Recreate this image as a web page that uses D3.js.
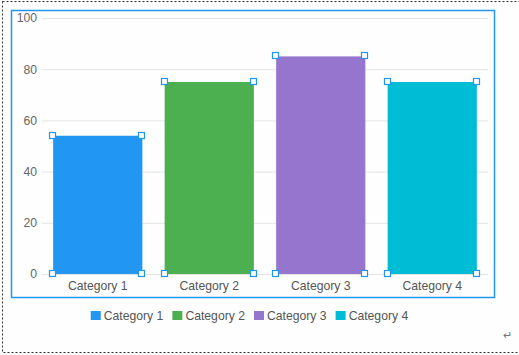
<!DOCTYPE html>
<html>
  <head>
    <style>
      body,
      html {
        margin: 0;
        padding: 0;
        background: #fdfefd;
      }
      svg {
        display: block;
        font-family: 'Liberation Sans', Arial, sans-serif;
      }
    </style>
  </head>
  <body>
    <svg id="svg" width="519" height="355"></svg>

    <script src="https://cdn.jsdelivr.net/npm/d3@7"></script>
    <script>
      const categories = ['Category 1', 'Category 2', 'Category 3', 'Category 4'];
      const values = [54, 75, 85, 75];
      const colors = ['#2196f3', '#4caf50', '#9575cd', '#00bcd4'];
      const yTicks = [0, 20, 40, 60, 80, 100];

      const draw = () => {
        const svg = d3.select('#svg');
        const fontSize = 12.2;

        // page border (dashed) and selection frame
        svg
          .append('rect')
          .attr('x', 2.5)
          .attr('y', 1.5)
          .attr('width', 530)
          .attr('height', 351)
          .attr('fill', 'none')
          .attr('stroke', '#333')
          .attr('stroke-dasharray', '2,2');
        svg
          .append('rect')
          .attr('x', 11.5)
          .attr('y', 10.5)
          .attr('width', 483)
          .attr('height', 287)
          .attr('fill', 'none')
          .attr('stroke', '#2196f3')
          .attr('stroke-width', 1.5);

        const plotLeft = 42;
        const plotRight = 488;
        const plotTop = 18;
        const plotBottom = 274;

        const xScale = d3
          .scaleBand()
          .domain(categories)
          .range([plotLeft, plotRight])
          .paddingInner(0.2)
          .paddingOuter(0.1);
        const yScale = d3.scaleLinear().domain([0, 100]).range([plotBottom, plotTop]);

        // gridlines
        svg
          .append('g')
          .selectAll('line')
          .data(yTicks)
          .join('line')
          .attr('x1', plotLeft)
          .attr('x2', plotRight)
          .attr('y1', (d) => yScale(d) + 0.5)
          .attr('y2', (d) => yScale(d) + 0.5)
          .attr('stroke', '#e3e3e3');

        const leftAxis = d3.axisLeft(yScale).tickValues(yTicks).tickSize(0).tickPadding(5);
        const yAxis = svg.append('g').attr('transform', `translate(${plotLeft}, 0)`).call(leftAxis);
        yAxis.select('.domain').remove();
        yAxis
          .selectAll('text')
          .attr('fill', '#666')
          .attr('font-size', fontSize)
          .attr('font-family', 'Liberation Sans, Arial, sans-serif');

        const bottomAxis = d3.axisBottom(xScale).tickSize(0).tickPadding(7);
        const xAxis = svg.append('g').attr('transform', `translate(0, ${plotBottom})`).call(bottomAxis);
        xAxis.select('.domain').remove();
        xAxis
          .selectAll('text')
          .attr('fill', '#555')
          .attr('font-size', fontSize)
          .attr('font-family', 'Liberation Sans, Arial, sans-serif');

        // bars
        svg
          .append('g')
          .selectAll('rect')
          .data(values)
          .join('rect')
          .attr('x', (d, i) => xScale(categories[i]))
          .attr('y', (d) => yScale(d))
          .attr('width', xScale.bandwidth())
          .attr('height', (d) => plotBottom - yScale(d))
          .attr('fill', (d, i) => colors[i]);

        // selection handles on bar corners
        const handles = [];
        values.forEach((v, i) => {
          const x0 = xScale(categories[i]);
          const x1 = x0 + xScale.bandwidth();
          [x0, x1].forEach((x) => {
            handles.push([x, yScale(v)]);
            handles.push([x, plotBottom]);
          });
        });
        svg
          .append('g')
          .selectAll('rect')
          .data(handles)
          .join('rect')
          .attr('x', (d) => Math.round(d[0]) - 3.5)
          .attr('y', (d) => Math.round(d[1]) - 3.5)
          .attr('width', 6)
          .attr('height', 6)
          .attr('fill', '#fff')
          .attr('stroke', '#2196f3')
          .attr('stroke-width', 1.2);

        // legend
        const legend = svg.append('g').attr('transform', 'translate(0, 315)');
        const itemWidths = [];
        const tmp = legend.append('text').attr('font-size', fontSize);
        categories.forEach((c) => {
          tmp.text(c);
          itemWidths.push(13 + tmp.node().getComputedTextLength());
        });
        tmp.remove();
        const gap = 9;
        const total = d3.sum(itemWidths) + gap * (categories.length - 1);
        let cx = 249.5 - total / 2;
        categories.forEach((c, i) => {
          const g = legend.append('g').attr('transform', `translate(${cx}, 0)`);
          g.append('rect').attr('x', 0).attr('y', -4).attr('width', 10).attr('height', 9).attr('fill', colors[i]);
          g.append('text').attr('x', 13).attr('y', 4.5).attr('font-size', fontSize).attr('fill', '#555').text(c);
          cx += itemWidths[i] + gap;
        });

        // return mark
        svg.append('text').attr('x', 503).attr('y', 339).attr('font-size', 11).attr('fill', '#777').text('↵');
      };
      draw();
    </script>
  </body>
</html>
